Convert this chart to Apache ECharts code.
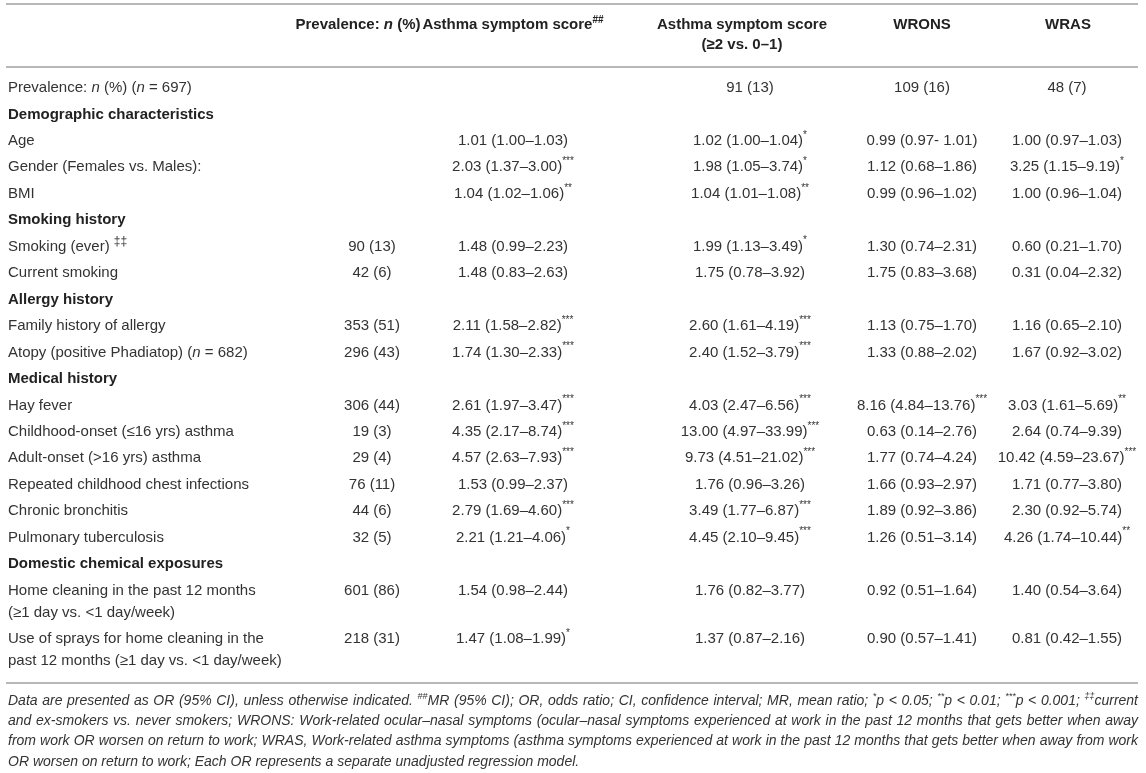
<!DOCTYPE html>
<html>
<head>
<meta charset="utf-8">
<script src="https://cdn.jsdelivr.net/npm/echarts@6/dist/echarts.min.js"></script>
<style>html,body{margin:0;padding:0;background:#fff}#main{width:1146px;height:773px}</style>
</head>
<body>
<div id="main"></div>
<script>
// table content
var rowLabels = [
  'Prevalence: {i|n} (%) ({i|n} = 697)',
  'Demographic characteristics',
  'Age',
  'Gender (Females vs. Males):',
  'BMI',
  'Smoking history',
  'Smoking (ever) {dag|‡‡}',
  'Current smoking',
  'Allergy history',
  'Family history of allergy',
  'Atopy (positive Phadiatop) ({i|n} = 682)',
  'Medical history',
  'Hay fever',
  'Childhood-onset (≤16 yrs) asthma',
  'Adult-onset (>16 yrs) asthma',
  'Repeated childhood chest infections',
  'Chronic bronchitis',
  'Pulmonary tuberculosis',
  'Domestic chemical exposures',
  'Home cleaning in the past 12 months\n(≥1 day vs. <1 day/week)',
  'Use of sprays for home cleaning in the\npast 12 months (≥1 day vs. <1 day/week)'
];
var sectionTitles = ['Demographic characteristics', 'Smoking history', 'Allergy history', 'Medical history', 'Domestic chemical exposures'];

var prevalence = ['', '', '', '', '', '', '90 (13)', '42 (6)', '', '353 (51)', '296 (43)', '', '306 (44)', '19 (3)', '29 (4)', '76 (11)', '44 (6)', '32 (5)', '', '601 (86)', '218 (31)'];
var asthmaScore = ['', '', '1.01 (1.00–1.03)', '2.03 (1.37–3.00)***', '1.04 (1.02–1.06)**', '', '1.48 (0.99–2.23)', '1.48 (0.83–2.63)', '', '2.11 (1.58–2.82)***', '1.74 (1.30–2.33)***', '', '2.61 (1.97–3.47)***', '4.35 (2.17–8.74)***', '4.57 (2.63–7.93)***', '1.53 (0.99–2.37)', '2.79 (1.69–4.60)***', '2.21 (1.21–4.06)*', '', '1.54 (0.98–2.44)', '1.47 (1.08–1.99)*'];
var asthmaScoreBin = ['91 (13)', '', '1.02 (1.00–1.04)*', '1.98 (1.05–3.74)*', '1.04 (1.01–1.08)**', '', '1.99 (1.13–3.49)*', '1.75 (0.78–3.92)', '', '2.60 (1.61–4.19)***', '2.40 (1.52–3.79)***', '', '4.03 (2.47–6.56)***', '13.00 (4.97–33.99)***', '9.73 (4.51–21.02)***', '1.76 (0.96–3.26)', '3.49 (1.77–6.87)***', '4.45 (2.10–9.45)***', '', '1.76 (0.82–3.77)', '1.37 (0.87–2.16)'];
var wrons = ['109 (16)', '', '0.99 (0.97- 1.01)', '1.12 (0.68–1.86)', '0.99 (0.96–1.02)', '', '1.30 (0.74–2.31)', '1.75 (0.83–3.68)', '', '1.13 (0.75–1.70)', '1.33 (0.88–2.02)', '', '8.16 (4.84–13.76)***', '0.63 (0.14–2.76)', '1.77 (0.74–4.24)', '1.66 (0.93–2.97)', '1.89 (0.92–3.86)', '1.26 (0.51–3.14)', '', '0.92 (0.51–1.64)', '0.90 (0.57–1.41)'];
var wras = ['48 (7)', '', '1.00 (0.97–1.03)', '3.25 (1.15–9.19)*', '1.00 (0.96–1.04)', '', '0.60 (0.21–1.70)', '0.31 (0.04–2.32)', '', '1.16 (0.65–2.10)', '1.67 (0.92–3.02)', '', '3.03 (1.61–5.69)**', '2.64 (0.74–9.39)', '10.42 (4.59–23.67)***', '1.71 (0.77–3.80)', '2.30 (0.92–5.74)', '4.26 (1.74–10.44)**', '', '1.40 (0.54–3.64)', '0.81 (0.42–1.55)'];

var columnHeaders = [
  'Prevalence: {bi|n} (%)',
  'Asthma symptom score{bsup|##}',
  'Asthma symptom score\n(≥2 vs. 0–1)',
  'WRONS',
  'WRAS'
];

var footnoteLines = [
  '{it|Data are presented as OR (95% CI), unless otherwise indicated. }{sup|##}{it|MR (95% CI); OR, odds ratio; CI, confidence interval; MR, mean ratio; }{sup|*}{it|p < 0.05; }{sup|**}{it|p < 0.01; }{sup|***}{it|p < 0.001; }{sup|‡‡}{it|current}',
  '{it|and ex-smokers vs. never smokers; WRONS: Work-related ocular–nasal symptoms (ocular–nasal symptoms experienced at work in the past 12 months that gets better when away}',
  '{it|from work OR worsen on return to work; WRAS, Work-related asthma symptoms (asthma symptoms experienced at work in the past 12 months that gets better when away from work}',
  '{it|OR worsen on return to work; Each OR represents a separate unadjusted regression model.}'
];

var FONT = '"Liberation Sans", Arial, Helvetica, sans-serif';
var TXT = '#333';
var HEAD = '#222';
var RULE = '#b8b8b8';

var rich = {
  i: { fontStyle: 'italic', fontSize: 15, fontFamily: FONT, fill: TXT },
  sup: { fontSize: 10, fontFamily: FONT, fill: TXT, verticalAlign: 'top', lineHeight: 10 },
  dag: { fontSize: 12, fontFamily: FONT, fill: TXT, verticalAlign: 'top', lineHeight: 13 },
  bi: { fontStyle: 'italic', fontWeight: 'bold', fontSize: 15, fontFamily: FONT, fill: HEAD },
  bsup: { fontWeight: 'bold', fontSize: 10, fontFamily: FONT, fill: HEAD, verticalAlign: 'top', lineHeight: 10 },
  it: { fontStyle: 'italic', fontSize: 14, fontFamily: FONT, fill: TXT },
  fsup: { fontStyle: 'italic', fontSize: 9, fontFamily: FONT, fill: TXT, verticalAlign: 'top', lineHeight: 9 }
};

var colX = [372, 513, 750, 922, 1067];
var headX = [358, 513, 742, 922, 1068];
var valueCols = [prevalence, asthmaScore, asthmaScoreBin, wrons, wras];
var leftX = 8, rightX = 1138;
var firstRowY = 88, rowPitch = 26.45, lineGap = 22;

function fmtVal(v) {
  return v.replace(/(\*+)$/, '{sup|$1}');
}

var els = [];
function rule(y) {
  els.push({ type: 'line', shape: { x1: leftX - 2, y1: y, x2: rightX, y2: y }, style: { stroke: RULE, lineWidth: 2 } });
}

// header
rule(4);
rule(67);
columnHeaders.forEach(function (h, c) {
  els.push({ type: 'text', x: headX[c], y: 15, style: {
    text: h, align: 'center', verticalAlign: 'top', fontSize: 15, fontWeight: 'bold',
    fontFamily: FONT, fill: HEAD, lineHeight: 20, rich: rich } });
});

// body
var y = firstRowY;
rowLabels.forEach(function (lab, r) {
  var isSection = sectionTitles.indexOf(lab) >= 0;
  var nLines = lab.split('\n').length;
  els.push({ type: 'text', x: leftX, y: y - 11, style: {
    text: lab, align: 'left', verticalAlign: 'top', fontSize: 15,
    fontWeight: isSection ? 'bold' : 'normal', fontFamily: FONT,
    fill: isSection ? HEAD : TXT, lineHeight: lineGap, rich: rich } });
  valueCols.forEach(function (col, c) {
    if (!col[r]) return;
    els.push({ type: 'text', x: colX[c], y: y - 11, style: {
      text: fmtVal(col[r]), align: 'center', verticalAlign: 'top', fontSize: 15,
      fontFamily: FONT, fill: TXT, lineHeight: lineGap, rich: rich } });
  });
  y += (nLines - 1) * lineGap + rowPitch;
});
var lastY = y - rowPitch;
rule(lastY + 22);

// footnote, justified like the source
var ctx = document.createElement('canvas').getContext('2d');
function fontOf(tag) {
  return tag === 'sup' ? 'italic 9px ' + FONT : 'italic 14px ' + FONT;
}
function parse(line) {
  var segs = [], re = /\{(\w+)\|([^}]*)\}/g, m;
  while ((m = re.exec(line))) segs.push({ tag: m[1], t: m[2] });
  return segs;
}
var footY = lastY + 22 + 18;
footnoteLines.forEach(function (line, li) {
  var segs = parse(line);
  var words = [[]];
  segs.forEach(function (s) {
    if (s.tag === 'sup') { words[words.length - 1].push(s); return; }
    var parts = s.t.split(' ');
    parts.forEach(function (p, k) {
      if (k > 0) words.push([]);
      if (p) words[words.length - 1].push({ tag: 'it', t: p });
    });
  });
  words = words.filter(function (w) { return w.length; });
  var widths = words.map(function (w) {
    return w.reduce(function (a, s) { ctx.font = fontOf(s.tag); return a + ctx.measureText(s.t).width; }, 0);
  });
  var total = widths.reduce(function (a, b) { return a + b; }, 0);
  ctx.font = fontOf('it');
  var space = ctx.measureText(' ').width;
  var last = li === footnoteLines.length - 1;
  var gap = last ? space : (rightX - leftX - total) / (words.length - 1);
  var x = leftX;
  words.forEach(function (w, k) {
    var txt = w.map(function (s) { return '{' + (s.tag === 'sup' ? 'fsup' : 'it') + '|' + s.t + '}'; }).join('');
    els.push({ type: 'text', x: x, y: footY + li * 20.3 - 9, style: {
      text: txt, align: 'left', verticalAlign: 'top', fontSize: 14, fontStyle: 'italic',
      fontFamily: FONT, fill: TXT, lineHeight: 18, rich: rich } });
    x += widths[k] + gap;
  });
});

var chart = echarts.init(document.getElementById('main'), null, { renderer: 'canvas' });
chart.setOption({
  backgroundColor: '#fff',
  animation: false,
  graphic: { elements: els }
});
</script>
</body>
</html>
